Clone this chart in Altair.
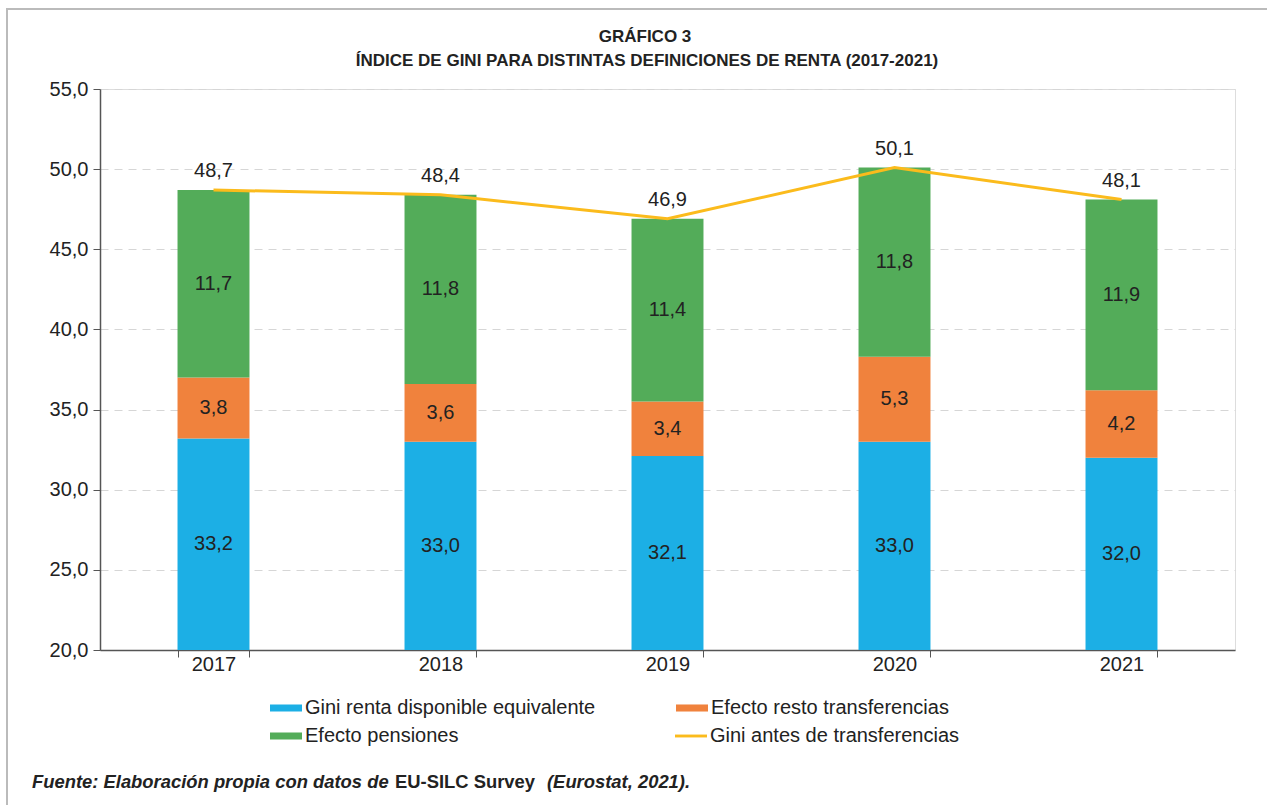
import altair as alt
import pandas as pd

years = ["2017", "2018", "2019", "2020", "2021"]
gini_renta = [33.2, 33.0, 32.1, 33.0, 32.0]
efecto_resto = [3.8, 3.6, 3.4, 5.3, 4.2]
efecto_pensiones = [11.7, 11.8, 11.4, 11.8, 11.9]
gini_antes = [48.7, 48.4, 46.9, 50.1, 48.1]

bar_series = ["Gini renta disponible equivalente", "Efecto resto transferencias",
              "Efecto pensiones"]
bar_colors = ["#1CAFE5", "#F0823D", "#53AC59"]
line_series = ["Gini antes de transferencias"]
line_colors = ["#FBBB1C"]

title_lines = ["GRÁFICO 3", "ÍNDICE DE GINI PARA DISTINTAS DEFINICIONES DE RENTA (2017-2021)"]
footer_parts = ["Fuente: Elaboración propia con datos de", "EU-SILC Survey", "(Eurostat, 2021)."]

Y_MIN, Y_MAX = 20, 55

def fmt(v):
    return f"{v:.1f}".replace(".", ",")

rows = []
for i, y in enumerate(years):
    start = 0.0
    for k, vals in enumerate([gini_renta, efecto_resto, efecto_pensiones]):
        v = vals[i]
        end = round(start + v, 2)
        mid = (max(start, Y_MIN) + end) / 2
        rows.append({"year": y, "serie": bar_series[k], "order": k, "start": start,
                     "end": end, "mid": mid, "label": fmt(v)})
        start = end
bars_df = pd.DataFrame(rows)

line_df = pd.DataFrame({"year": years, "value": gini_antes,
                        "serie": line_series[0], "label": [fmt(v) for v in gini_antes]})

yscale = alt.Scale(domain=[Y_MIN, Y_MAX], clamp=True, nice=False, zero=False)
xscale = alt.Scale(paddingInner=0.683, paddingOuter=0.3415)

FONT = "Liberation Sans"
NARROW = "Liberation Sans Narrow, Liberation Sans"
FS = 20

bar_legend = alt.Legend(
    title=None, orient="none", legendX=170, legendY=609, columns=2, direction="horizontal",
    columnPadding=80, rowPadding=8, clipHeight=20, symbolSize=1024,
    symbolType="M-1,-0.22L1,-0.22L1,0.22L-1,0.22Z", symbolStrokeWidth=0,
    labelOffset=3, labelFontSize=FS, labelFont=FONT, labelColor="#222",
    labelLimit=400)

line_legend = alt.Legend(
    title=None, orient="none", legendX=575, legendY=637, clipHeight=20,
    symbolSize=1024, symbolType="M-1,-0.09L1,-0.09L1,0.09L-1,0.09Z",
    symbolFillColor="#FBBB1C", symbolStrokeWidth=0,
    labelOffset=3, labelFontSize=FS, labelFont=FONT, labelColor="#222",
    labelLimit=400)

x_enc = alt.X("year:N", scale=xscale, title=None,
              axis=alt.Axis(labelAngle=0, tickBand="extent", tickSize=7,
                            labelFontSize=FS, labelFont=FONT, labelColor="#222",
                            labelPadding=-3, domainColor="#555", tickColor="#555",
                            domainWidth=1.5, grid=False))

bars = alt.Chart(bars_df).mark_bar().encode(
    x=x_enc,
    y=alt.Y("start:Q", scale=yscale, title=None,
            axis=alt.Axis(values=list(range(20, 56, 5)),
                          labelExpr="replace(format(datum.value, '.1f'), '.', ',')",
                          tickSize=7, labelFontSize=FS, labelFont=FONT,
                          labelColor="#222", labelPadding=5,
                          domainColor="#555", tickColor="#555", domainWidth=1.5,
                          grid=True, gridDash=[8, 6], gridColor="#d6d6d6")),
    y2="end:Q",
    color=alt.Color("serie:N", scale=alt.Scale(domain=bar_series, range=bar_colors),
                    legend=bar_legend),
)

seg_labels = alt.Chart(bars_df).mark_text(fontSize=FS, font=FONT, color="#222").encode(
    x=alt.X("year:N", scale=xscale),
    y=alt.Y("mid:Q", scale=yscale),
    text="label:N",
)

line = alt.Chart(line_df).mark_line(strokeWidth=3).encode(
    x=alt.X("year:N", scale=xscale),
    y=alt.Y("value:Q", scale=yscale),
    stroke=alt.Stroke("serie:N", scale=alt.Scale(domain=line_series, range=line_colors),
                      legend=line_legend),
)

top_labels = alt.Chart(line_df).mark_text(fontSize=FS, font=FONT, color="#222", dy=-19).encode(
    x=alt.X("year:N", scale=xscale),
    y=alt.Y("value:Q", scale=yscale),
    text="label:N",
)

def text_layer(txt, x, y, **kw):
    return alt.Chart(pd.DataFrame({"t": [txt]})).mark_text(**kw).encode(
        text="t:N", x=alt.value(x), y=alt.value(y))

title_style = dict(fontSize=17, font=NARROW, fontWeight="bold", color="#222",
                   align="center", baseline="middle")
t1 = text_layer(title_lines[0], 545, -52, **title_style)
t2 = text_layer(title_lines[1], 547, -28, **title_style)

foot_style = dict(fontSize=18.4, font=NARROW, fontWeight="bold", color="#222",
                  align="left", baseline="middle")
f1 = text_layer(footer_parts[0], -68, 693, fontStyle="italic", **foot_style)
f2 = text_layer(footer_parts[1], 295, 693, **foot_style)
f3 = text_layer(footer_parts[2], 447, 693, fontStyle="italic", **foot_style)

frame = alt.Chart(pd.DataFrame({"f": [1]})).mark_rect(
    fillOpacity=0, stroke="#bbbbbb", strokeWidth=2).encode(
    x=alt.value(-93), x2=alt.value(1200), y=alt.value(-80), y2=alt.value(760))

chart = alt.layer(bars, line, seg_labels, top_labels, t1, t2, f1, f2, f3, frame).resolve_legend(
    color="independent", stroke="independent"
).properties(
    width=1135, height=561,
    autosize=alt.AutoSizeParams(type="none"),
    padding={"left": 100, "top": 89, "right": 32, "bottom": 155},
).configure_view(stroke="#555", strokeWidth=1.5).configure(background="white")

chart.save("out.html", embed_options={"renderer": "svg", "actions": False})
